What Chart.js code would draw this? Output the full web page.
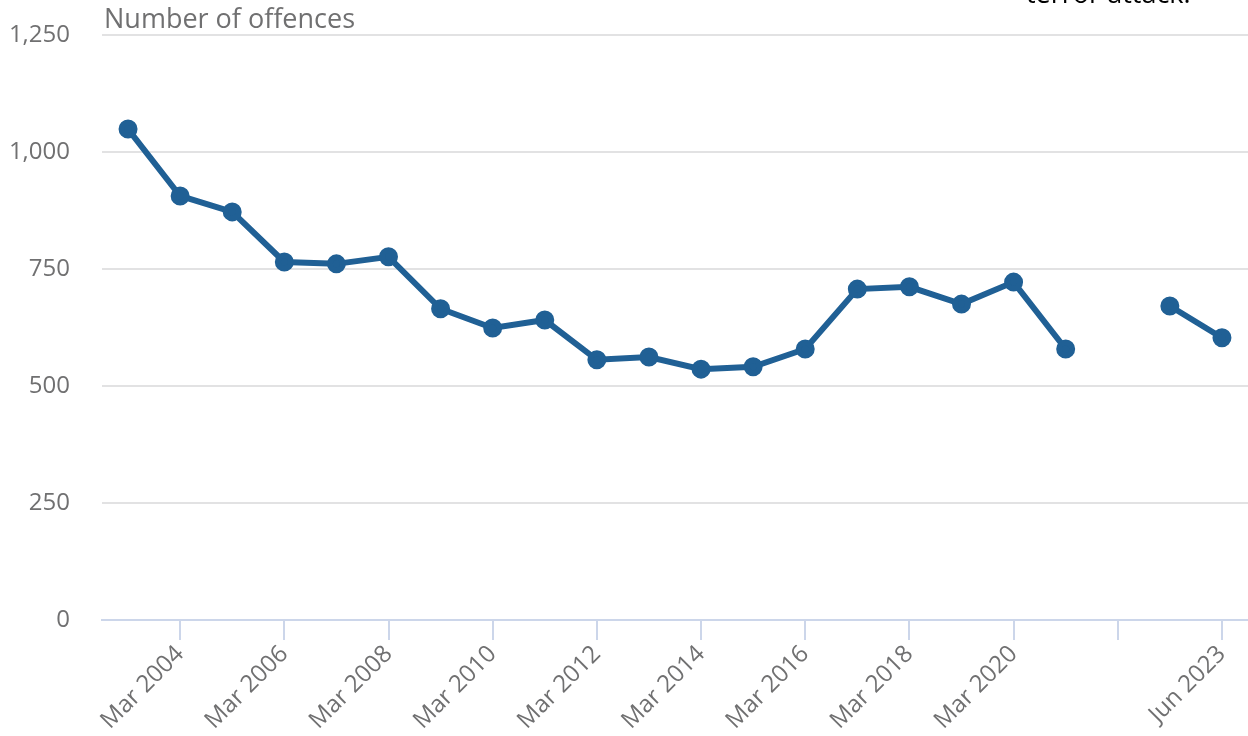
<!DOCTYPE html>
<html>
<head>
<meta charset="utf-8">
<script src="https://cdn.jsdelivr.net/npm/chart.js@4/dist/chart.umd.min.js"></script>
<style>
  html, body { margin: 0; padding: 0; background: #fff; }
  #wrap { width: 1248px; height: 736px; position: relative; }
</style>
</head>
<body>
<div id="wrap"><canvas id="chart"></canvas></div>
<script>
// categories (index 19 has no label in the original)
const periods = ['Mar 2003', 'Mar 2004', 'Mar 2005', 'Mar 2006', 'Mar 2007', 'Mar 2008', 'Mar 2009',
  'Mar 2010', 'Mar 2011', 'Mar 2012', 'Mar 2013', 'Mar 2014', 'Mar 2015', 'Mar 2016', 'Mar 2017',
  'Mar 2018', 'Mar 2019', 'Mar 2020', 'Mar 2021', '', 'Jun 2022', 'Jun 2023'];
const offences = [1049, 906, 872, 765, 761, 776, 665, 624, 641, 556, 562, 536, 541, 579, 707,
  712, 675, 722, 579, null, 671, 603];
const yTicks = [0, 250, 500, 750, 1000, 1250];

const FONT = "'Open Sans', sans-serif";
const GREY = '#707071';

// y-axis title and the cut-off note at the top
const textPlugin = {
  id: 'texts',
  afterDraw(chart) {
    const ctx = chart.ctx;
    ctx.save();
    ctx.font = '27px ' + FONT;
    ctx.fillStyle = GREY;
    ctx.textBaseline = 'alphabetic';
    ctx.textAlign = 'left';
    ctx.fillText('Number of offences', 104, 28);
    ctx.fillStyle = '#000';
    ctx.fillText('terror attack.', 1026, 3);
    ctx.restore();
  }
};

new Chart(document.getElementById('chart'), {
  type: 'line',
  data: {
    labels: periods,
    datasets: [{
      data: offences,
      borderColor: '#206095',
      backgroundColor: '#206095',
      borderWidth: 6,
      pointRadius: 6.5,
      pointHoverRadius: 6.5,
      tension: 0,
      spanGaps: false
    }]
  },
  options: {
    responsive: true,
    maintainAspectRatio: false,
    animation: false,
    layout: { autoPadding: false, padding: { top: 35, right: -3, bottom: 0, left: 0 } },
    plugins: { legend: { display: false }, tooltip: { enabled: false } },
    scales: {
      x: {
        type: 'category',
        offset: true,
        grid: { drawOnChartArea: false, drawTicks: true, tickLength: 20, color: '#ccd6ea', lineWidth: 2 },
        border: { color: '#ccd6ea', width: 2 },
        afterFit(scale) {
          scale.height = 116;
          scale.paddingLeft = 0;
          scale.paddingRight = 0;
        },
        ticks: {
          autoSkip: false,
          maxRotation: 45,
          minRotation: 45,
          color: GREY,
          font: { family: FONT, size: 24 },
          padding: 0,
          callback(value, index) {
            if (index % 2 === 0) return null;
            return periods[index];
          }
        }
      },
      y: {
        min: 0,
        max: 1250,
        afterBuildTicks(scale) { scale.ticks = yTicks.map(v => ({ value: v })); },
        afterFit(scale) {
          scale.width = 102;
          scale.paddingTop = 0;
        },
        grid: { drawTicks: false, color: '#e2e2e3', lineWidth: 2 },
        border: { display: false },
        ticks: {
          color: GREY,
          font: { family: FONT, size: 24 },
          padding: 32,
          callback(v) { return v.toLocaleString('en-GB'); }
        }
      }
    }
  },
  plugins: [textPlugin]
});
</script>
</body>
</html>
